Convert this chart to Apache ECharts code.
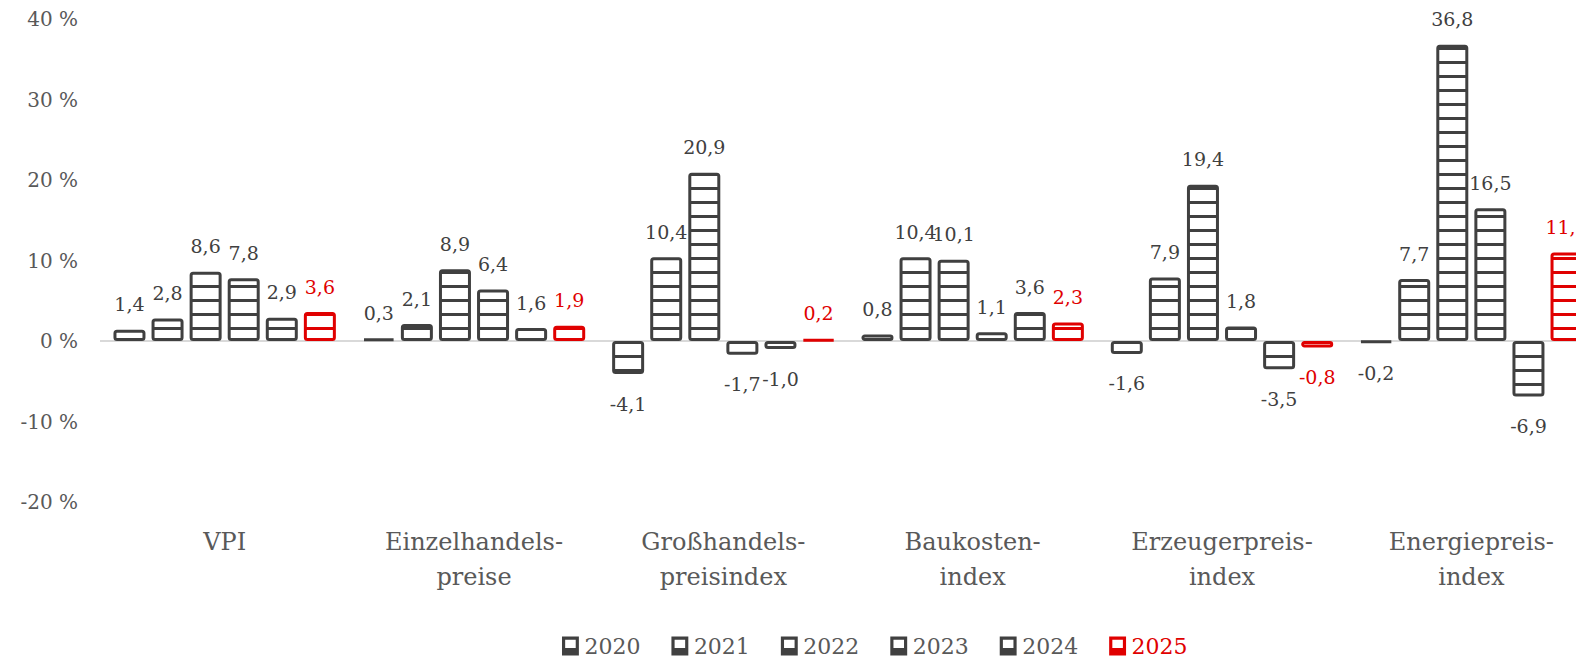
<!DOCTYPE html>
<html>
<head>
<meta charset="utf-8">
<script src="https://cdn.jsdelivr.net/npm/echarts@6/dist/echarts.min.js"></script>
<style>
  html, body { margin: 0; padding: 0; background: #fff; }
  #chart { width: 1576px; height: 658px; }
</style>
</head>
<body>
<div id="chart"></div>
<script>
// ---- data ----
const categories = ['VPI', 'Einzelhandels-\npreise', 'Großhandels-\npreisindex', 'Baukosten-\nindex', 'Erzeugerpreis-\nindex', 'Energiepreis-\nindex'];
const years = ['2020', '2021', '2022', '2023', '2024', '2025'];
const v2020 = [1.4, 0.3, -4.1, 0.8, -1.6, -0.2];
const v2021 = [2.8, 2.1, 10.4, 10.4, 7.9, 7.7];
const v2022 = [8.6, 8.9, 20.9, 10.1, 19.4, 36.8];
const v2023 = [7.8, 6.4, -1.7, 1.1, 1.8, 16.5];
const v2024 = [2.9, 1.6, -1.0, 3.6, -3.5, -6.9];
const v2025 = [3.6, 1.9, 0.2, 2.3, -0.8, 11.0];
const yTicks = [-20, -10, 0, 10, 20, 30, 40];

const seriesValues = [v2020, v2021, v2022, v2023, v2024, v2025];
const DARK = '#404040';
const RED = '#e00000';
const FONT = 'DejaVu Serif';

function stripePattern(color) {
  const c = document.createElement('canvas');
  c.width = 8; c.height = 14;
  const ctx = c.getContext('2d');
  ctx.fillStyle = '#ffffff';
  ctx.fillRect(0, 0, 8, 14);
  ctx.fillStyle = color;
  ctx.fillRect(0, 5, 8, 3);
  return { image: c, repeat: 'repeat' };
}

const fmt = p => Number(p.value).toFixed(1).replace('.', ',');

const chart = echarts.init(document.getElementById('chart'), null, { renderer: 'svg' });

const series = years.map((y, i) => {
  const col = i === 5 ? RED : DARK;
  return {
    name: y,
    type: 'bar',
    data: seriesValues[i].map(v => v < 0 ? { value: v, label: { position: 'bottom', distance: 20 } } : v),
    barWidth: 32,
    barGap: '19%',
    itemStyle: {
      color: stripePattern(col),
      borderColor: col,
      borderWidth: 3,
      borderRadius: 2
    },
    label: {
      show: true,
      position: 'top',
      distance: 16,
      color: col,
      fontFamily: FONT,
      fontSize: 19,
      formatter: fmt
    }
  };
});

series[0].markLine = {
  silent: true,
  symbol: 'none',
  label: { show: false },
  lineStyle: { color: '#d9d9d9', width: 2, type: 'solid' },
  data: [{ yAxis: 0 }],
  z: 1
};

chart.setOption({
  animation: false,
  backgroundColor: '#ffffff',
  grid: { left: 100, top: 19, width: 1496, height: 483, containLabel: false, outerBoundsMode: 'none' },
  legend: {
    left: 557,
    top: 629,
    itemWidth: 18,
    itemHeight: 19,
    itemGap: 31,
    icon: 'path://M0,0H16V18H0Z M3,3V11H13V3Z',
    textStyle: { fontFamily: FONT, fontSize: 22, lineHeight: 24, color: '#595959' },
    data: years.map((y, i) => i === 5
      ? { name: y, itemStyle: { color: RED, borderWidth: 0 }, textStyle: { color: RED } }
      : { name: y, itemStyle: { color: DARK, borderWidth: 0 } })
  },
  xAxis: {
    type: 'category',
    data: categories,
    axisLine: { show: false },
    axisTick: { show: false },
    axisLabel: {
      fontFamily: FONT,
      fontSize: 24,
      color: '#595959',
      lineHeight: 35,
      margin: 22,
      interval: 0
    }
  },
  yAxis: {
    type: 'value',
    min: yTicks[0],
    max: yTicks[yTicks.length - 1],
    interval: 10,
    splitLine: { show: false },
    axisLine: { show: false },
    axisTick: { show: false },
    axisLabel: {
      fontFamily: FONT,
      fontSize: 20,
      color: '#595959',
      margin: 22,
      formatter: '{value} %'
    }
  },
  series: series
});
</script>
</body>
</html>
